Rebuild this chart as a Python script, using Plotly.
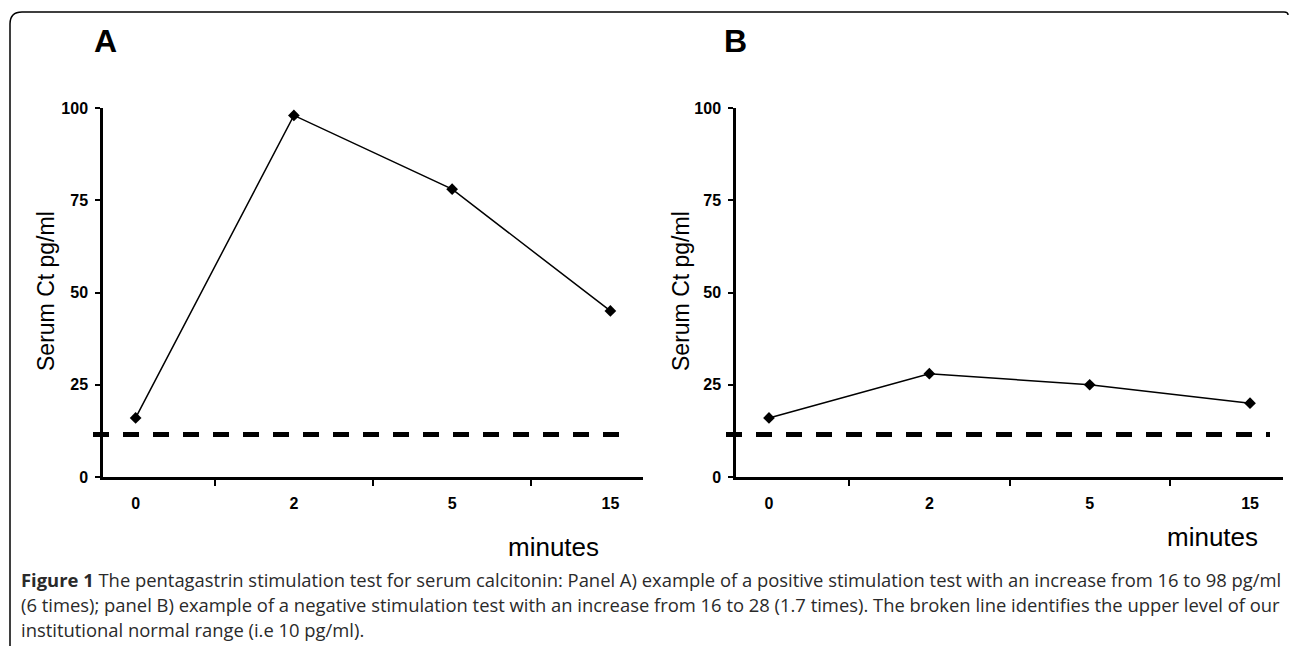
import plotly.graph_objects as go

W, H = 1290, 646

minutes = ["0", "2", "5", "15"]
serum_a = [16, 98, 78, 45]
serum_b = [16, 28, 25, 20]
normal_upper = 11.5
y_ticks = [0, 25, 50, 75, 100]

caption_lines = [
    "<b>Figure 1</b> The pentagastrin stimulation test for serum calcitonin: Panel A) example of a positive stimulation test with an increase from 16 to 98 pg/ml",
    "(6 times); panel B) example of a negative stimulation test with an increase from 16 to 28 (1.7 times). The broken line identifies the upper level of our",
    "institutional normal range (i.e 10 pg/ml).",
]

def px(x):
    return x / W

def py(y):
    return (H - y) / H

fig = go.Figure()

line_style = dict(color="black", width=1.5)
marker_style = dict(symbol="diamond", size=9, color="black")

fig.add_trace(go.Scatter(x=minutes, y=serum_a, mode="lines+markers", line=line_style,
                         marker=marker_style, xaxis="x", yaxis="y", showlegend=False))
fig.add_trace(go.Scatter(x=minutes, y=serum_b, mode="lines+markers", line=line_style,
                         marker=marker_style, xaxis="x2", yaxis="y2", showlegend=False))

tfont = dict(family="Liberation Sans, Arial", size=16, color="black", weight="bold")

xcommon = dict(type="category", categoryorder="array", categoryarray=minutes,
               showline=True, linecolor="black", linewidth=2.5, ticks="outside",
               tickson="boundaries", ticklen=6, tickwidth=2, tickcolor="black",
               showgrid=False, zeroline=False, tickfont=tfont, automargin=False,
               ticklabelstandoff=10, fixedrange=True)
ycommon = dict(range=[0, 100], tickvals=y_ticks, showline=True, linecolor="black", linewidth=2.5,
               ticks="outside", ticklen=5, tickwidth=2, tickcolor="black", showgrid=False,
               zeroline=False, tickfont=tfont, ticklabelstandoff=4, automargin=False,
               fixedrange=True)

ydom = [py(477), py(108)]
fig.update_layout(
    template="none",
    width=W, height=H,
    margin=dict(l=0, r=0, t=0, b=0, pad=0, autoexpand=False),
    paper_bgcolor="white", plot_bgcolor="white",
    xaxis=dict(domain=[px(103), px(643)], anchor="y", **xcommon),
    yaxis=dict(domain=ydom, anchor="x", **ycommon),
    xaxis2=dict(domain=[px(736), px(1283)], anchor="y2", **xcommon),
    yaxis2=dict(domain=ydom, anchor="x2", **ycommon),
)

# Normal upper limit dashed lines
dash = dict(color="black", width=5, dash="16px,14px")
fig.add_shape(type="line", xref="x domain", yref="y", x0=-10/540, x1=(625-103)/540,
              y0=normal_upper, y1=normal_upper, line=dash)
fig.add_shape(type="line", xref="x2 domain", yref="y2", x0=-10/547, x1=(1270-736)/547,
              y0=normal_upper, y1=normal_upper, line=dash)

# Border (rounded frame, open on the right)
r = 12
x0b, y0b, x1b = 10, 12, 1288
path = (f"M {px(x0b)} {py(H+5)} L {px(x0b)} {py(y0b + r)} "
        f"Q {px(x0b)} {py(y0b)} {px(x0b + r)} {py(y0b)} "
        f"L {px(x1b - 4)} {py(y0b)} Q {px(x1b)} {py(y0b)} {px(x1b)} {py(y0b + 3)}")
fig.add_shape(type="path", xref="paper", yref="paper", path=path,
              line=dict(color="black", width=1.5))

annots = []
# Panel letters
annots.append(dict(x=px(105), y=py(41), text="<b>A</b>", font=dict(family="Liberation Sans, Arial", size=32, color="black")))
annots.append(dict(x=px(735), y=py(41), text="<b>B</b>", font=dict(family="Liberation Sans, Arial", size=32, color="black")))
# Axis titles
for xc in (46, 681):
    annots.append(dict(x=px(xc), y=py(291), text="Serum Ct pg/ml", textangle=-90,
                       font=dict(family="Liberation Sans, Arial", size=23, color="black")))
annots.append(dict(x=px(553), y=py(547), text="minutes", font=dict(family="Liberation Sans, Arial", size=26, color="black")))
annots.append(dict(x=px(1212), y=py(537), text="minutes", font=dict(family="Liberation Sans, Arial", size=26, color="black")))
# Caption
for i, line in enumerate(caption_lines):
    annots.append(dict(x=px(19), y=py(579 + 25 * i), text=line, xanchor="left",
                       font=dict(family="Open Sans", size=18.4, color="#2a2a2a")))

for a in annots:
    a.setdefault("xanchor", "center")
    a.update(xref="paper", yref="paper", yanchor="middle", showarrow=False)
fig.update_layout(annotations=annots)

post = ("document.documentElement.style.margin='0';document.documentElement.style.overflow='hidden';"
        "document.body.style.margin='0';document.body.style.overflow='hidden';"
        "var d=document.getElementById('{plot_id}');d.style.position='fixed';"
        "d.style.top='0px';d.style.left='0px';")

fig.write_html("out.html", config={"displayModeBar": False}, post_script=post)
